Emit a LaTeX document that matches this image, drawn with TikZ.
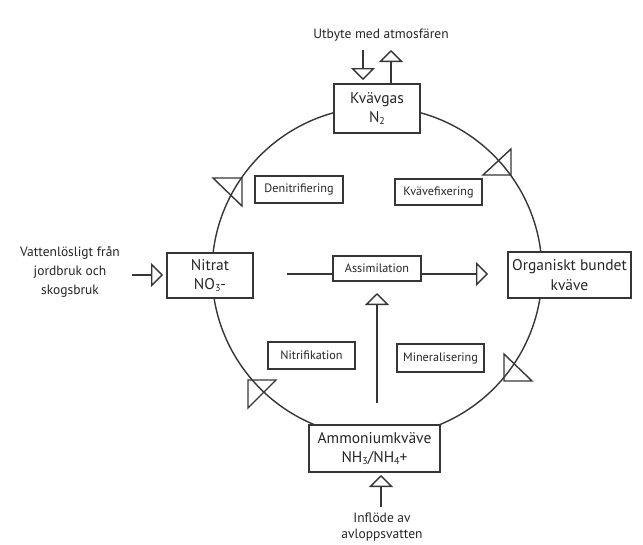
\documentclass[tikz,border=0pt]{standalone}
\usepackage{fontspec}
\setmainfont{PT Sans}
\usetikzlibrary{arrows.meta}
\definecolor{ink}{HTML}{363636}
\definecolor{txt}{HTML}{262626}
\newcommand\lowsub[1]{\raisebox{-0.35ex}{\fontsize{10}{10}\selectfont #1}}
\begin{document}
\begin{tikzpicture}[x=1pt,y=-1pt,
  every node/.style={text=txt},
  mainbox/.style={draw=ink, fill=white, line width=1.4pt, inner sep=0pt, align=center,
    font=\fontsize{15.5}{19}\selectfont},
  procbox/.style={draw=ink, fill=white, line width=1.4pt, inner sep=0pt, align=center,
    font=\fontsize{12.2}{14}\selectfont},
  lbl/.style={align=center, font=\fontsize{13.5}{18}\selectfont, inner sep=0pt},
  openarrow/.style={draw=ink, line width=1.4pt, -{Triangle[open,length=12pt,width=24pt]}},
  plain/.style={draw=ink, line width=1.4pt},
  tri/.style={draw=ink, line width=1.4pt, line join=miter}]
\useasboundingbox (0,0) rectangle (643,544);
\fill[white] (0,0) rectangle (643,544);

% cycle circle
\coordinate (cc) at (377,272);
\draw[plain] (cc) circle[radius=165pt];

% triangles on the circle
\draw[tri] (483,175) -- (511,149) -- (511,175) -- cycle;
\draw[tri] (504,354) -- (504,381) -- (532,381) -- cycle;
\draw[tri] (213,178) -- (242,178) -- (242,206) -- cycle;
\draw[tri] (248,380) -- (276,380) -- (248,408) -- cycle;

% main boxes
\node[mainbox, minimum width=86pt, minimum height=49pt] (kv) at (377,108.5) {Kvävgas\\N\lowsub{2}};
\node[mainbox, minimum width=86pt, minimum height=45pt] (ni) at (210,275.5) {Nitrat\\NO\lowsub{3}-};
\node[mainbox, minimum width=123pt, minimum height=46pt, font=\fontsize{15.5}{20}\selectfont] (org) at (569.5,275) {Organiskt bundet\\kväve};
\node[mainbox, minimum width=131pt, minimum height=47pt] (am) at (374.5,448.5) {Ammoniumkväve\\NH\lowsub{3}/NH\lowsub{4}+};
\node[procbox, minimum width=88pt, minimum height=25pt] (as) at (377,268.5) {Assimilation};

% process labels
\node[procbox, minimum width=88pt, minimum height=27pt] (de) at (299,189.5) {Denitrifiering};
\node[procbox, minimum width=87pt, minimum height=26pt] (fx) at (438.5,192) {Kvävefixering};
\node[procbox, minimum width=87pt, minimum height=27pt] (nf) at (311.5,355.5) {Nitrifikation};
\node[procbox, minimum width=87pt, minimum height=28pt] (mi) at (440.5,358) {Mineralisering};

% outside labels
\node[lbl] (ut) at (381,35) {Utbyte med atmosfären};
\node[lbl, font=\fontsize{13.5}{19}\selectfont] (va) at (70,272) {Vattenlösligt från\\jordbruk och\\skogsbruk};
\node[lbl, font=\fontsize{13.5}{15.5}\selectfont] (in) at (382,527) {Inflöde av\\avloppsvatten};

% connector coordinates
\coordinate (dnS) at (363,50);
\coordinate (dnE) at (363,80);
\coordinate (upT) at (391,50);
\coordinate (vaS) at (132,275);
\coordinate (vaE) at (163,275);
\coordinate (inS) at (381,507);
\coordinate (inE) at (381,475);
\coordinate (mvS) at (377,403);
\coordinate (mvE) at (377,293);
\coordinate (alS) at (287,274);
\coordinate (arE) at (488,274);

% connectors
\draw[openarrow] (dnS) -- (dnE);
\draw[openarrow] (kv.north -| upT) -- (upT);
\draw[openarrow] (vaS) -- (vaE);
\draw[openarrow] (inS) -- (inE);
\draw[openarrow] (mvS) -- (mvE);
\draw[plain] (alS) -- (alS -| as.west);
\draw[openarrow] (arE -| as.east) -- (arE);
\end{tikzpicture}
\end{document}
